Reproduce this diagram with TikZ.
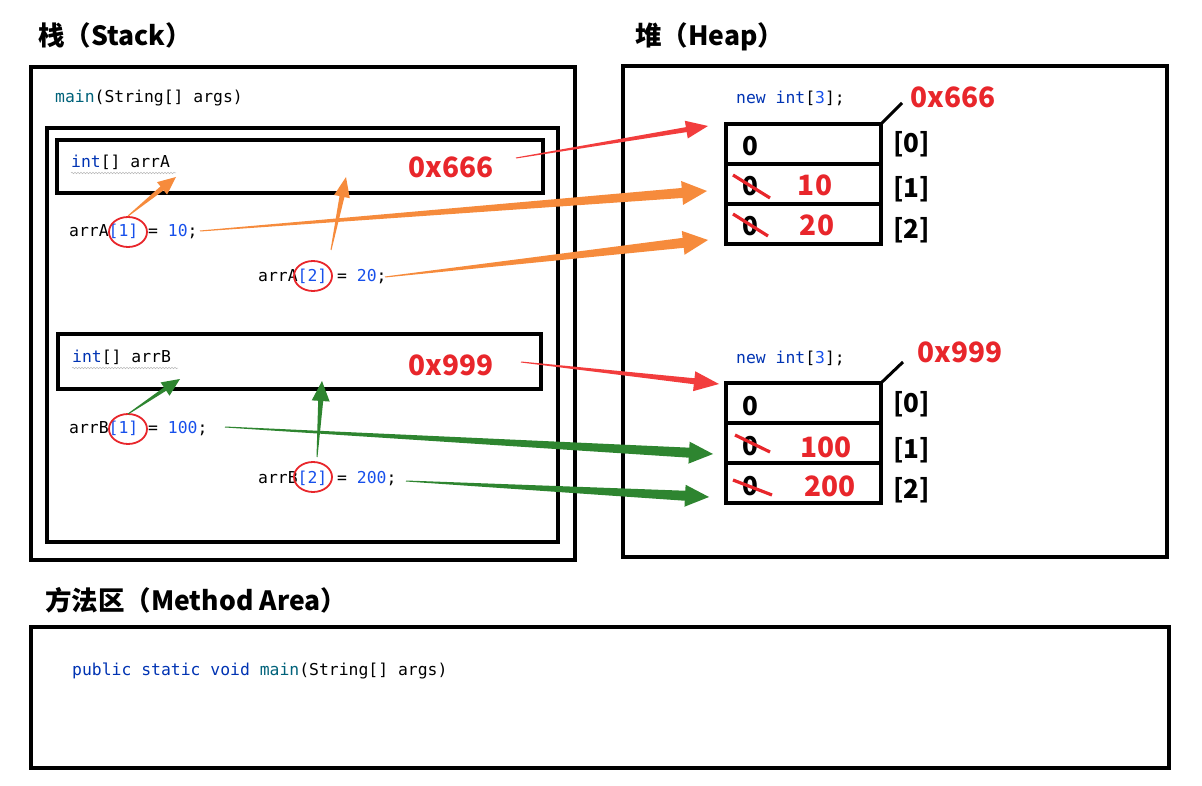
\documentclass[tikz,border=0pt]{standalone}
\usepackage{fontspec}
\newfontfamily\cjk{Noto Sans CJK SC}
\setmonofont{DejaVu Sans Mono}
\usetikzlibrary{positioning,calc,decorations.pathmorphing}

\definecolor{kwblue}{HTML}{0033B3}
\definecolor{numblue}{HTML}{1750EB}
\definecolor{fnteal}{HTML}{00627A}
\definecolor{memred}{HTML}{E8262B}
\definecolor{arrred}{HTML}{F23D3D}
\definecolor{arrorange}{HTML}{F68B3C}
\definecolor{arrgreen}{HTML}{2E8530}

% tapered arrow: colour, tail, tip, shaft half-width, head length, head half-width
\newcommand{\wedgearrow}[6]{%
  \coordinate (wedge-base) at ($(#3)!#5!(#2)$);
  \fill[#1] ($(#2)!0.5pt!90:(#3)$) -- ($(wedge-base)!#4!90:(#3)$) -- ($(wedge-base)!#6!90:(#3)$)
    -- (#3) -- ($(wedge-base)!#6!-90:(#3)$) -- ($(wedge-base)!#4!-90:(#3)$) -- ($(#2)!0.5pt!-90:(#3)$) -- cycle;
}

\tikzset{
  region/.style={draw, line width=4pt},
  title/.style={anchor=west, inner sep=0pt, font=\cjk\bfseries\fontsize{26.5}{30}\selectfont},
  code/.style={anchor=west, inner sep=0pt, font=\ttfamily\fontsize{16.4}{18}\selectfont},
  addr/.style={anchor=west, inner sep=0pt, text=memred, font=\cjk\bfseries\fontsize{28}{32}\selectfont},
  cell/.style={draw, line width=4pt, outer sep=0pt, minimum width=155pt, minimum height=40pt, inner sep=0pt},
  zero/.style={font=\cjk\bfseries\fontsize{26}{30}\selectfont},
  newval/.style={text=memred, font=\cjk\bfseries\fontsize{28}{32}\selectfont},
  idx/.style={anchor=west, inner sep=0pt, font=\cjk\bfseries\fontsize{26}{30}\selectfont},
  ring/.style={draw=memred, line width=1.8pt},
  strike/.style={memred, line width=3.2pt},
  squiggle/.style={gray!55, line width=0.5pt, decorate, decoration={snake, amplitude=0.8pt, segment length=3pt}}
}

\begin{document}
\begin{tikzpicture}[x=1pt, y=-1pt]
  \useasboundingbox (0,0) rectangle (1202,786);

  % Stack
  \node[title] (stackT) at (38,35) {栈（Stack）};
  \draw[region] (31,67) rectangle (575,560);
  \draw[region] (47,128) rectangle (558,542);
  \node[code] (mainArgs) at (55,98) {\textcolor{fnteal}{main}(String[] args)};

  \draw[region] (57,140) rectangle (543,193);
  \node[code] (declA) at (71,162) {\textcolor{kwblue}{int}[] arrA};
  \draw[squiggle] (71,173) -- (176,173);
  \node[addr] (addrA) at (408,167) {0x666};
  \node[code] (setA1) at (69,231) {arrA\textcolor{numblue}{[1]} = \textcolor{numblue}{10};};
  \node[code] (setA2) at (258,276) {arrA\textcolor{numblue}{[2]} = \textcolor{numblue}{20};};
  \draw[ring] (128,232) ellipse (19 and 15);
  \draw[ring] (313,276) ellipse (19 and 15);

  \draw[region] (58,334) rectangle (541,389);
  \node[code] (declB) at (72,357) {\textcolor{kwblue}{int}[] arrB};
  \draw[squiggle] (72,368) -- (178,368);
  \node[addr] (addrB) at (408,365) {0x999};
  \node[code] (setB1) at (69,428) {arrB\textcolor{numblue}{[1]} = \textcolor{numblue}{100};};
  \node[code] (setB2) at (258,478) {arrB\textcolor{numblue}{[2]} = \textcolor{numblue}{200};};
  \draw[ring] (128,429) ellipse (19 and 15);
  \draw[ring] (313,477) ellipse (19 and 15);

  % Heap
  \node[title] (heapT) at (635,37) {堆（Heap）};
  \draw[region] (623,66) rectangle (1167,557);

  \node[code] (newA) at (736,98) {\textcolor{kwblue}{new int}[\textcolor{numblue}{3}];};
  \node[cell] (cellA0) at (803.5,144) {};
  \node[cell, below=0pt of cellA0] (cellA1) {};
  \node[cell, below=0pt of cellA1] (cellA2) {};
  \coordinate (tagA) at (902,103);
  \draw[line width=3pt] (cellA0.north east) -- (tagA);
  \node[addr] (heapAddrA) at (910,97) {0x666};
  \node[idx] (idxA0) at (893,144) {[0]};
  \node[idx] (idxA1) at (893,189) {[1]};
  \node[idx] (idxA2) at (893,230) {[2]};
  \node[zero] (zeroA0) at (750,146) {0};
  \node[zero] (zeroA1) at (750,186) {0};
  \node[zero] (zeroA2) at (750,226) {0};
  \draw[strike] (733,175) -- (770,198);
  \draw[strike] (733,214) -- (768,236);
  \node[newval] (valA1) at (815,185) {10};
  \node[newval] (valA2) at (817,225) {20};

  \node[code] (newB) at (736,358) {\textcolor{kwblue}{new int}[\textcolor{numblue}{3}];};
  \node[cell] (cellB0) at (803.5,403) {};
  \node[cell, below=0pt of cellB0] (cellB1) {};
  \node[cell, below=0pt of cellB1] (cellB2) {};
  \coordinate (tagB) at (903,362);
  \draw[line width=3pt] (cellB0.north east) -- (tagB);
  \node[addr] (heapAddrB) at (917,352) {0x999};
  \node[idx] (idxB0) at (893,404) {[0]};
  \node[idx] (idxB1) at (893,450) {[1]};
  \node[idx] (idxB2) at (893,490) {[2]};
  \node[zero] (zeroB0) at (750,406) {0};
  \node[zero] (zeroB1) at (750,446) {0};
  \node[zero] (zeroB2) at (750,486) {0};
  \draw[strike] (735,435) -- (770,452);
  \draw[strike] (733,480) -- (772,495);
  \node[newval] (valB1) at (826,447) {100};
  \node[newval] (valB2) at (830,486) {200};

  % Method area
  \node[title] (methodT) at (45,600) {方法区（Method Area）};
  \draw[region] (31,627) rectangle (1169,768);
  \node[code] (mainSig) at (72,671) {\textcolor{kwblue}{public static void} \textcolor{fnteal}{main}(String[] args)};

  % arrow ends
  \coordinate (oA1s) at (128,216);  \coordinate (oA1t) at (176,177);
  \coordinate (oA2s) at (331,250);  \coordinate (oA2t) at (346,177);
  \coordinate (oL1s) at (200,231);  \coordinate (oL1t) at (707,191);
  \coordinate (oL2s) at (385,277);  \coordinate (oL2t) at (708,240);
  \coordinate (rAs) at (516,158);   \coordinate (rAt) at (708,126);
  \coordinate (rBs) at (521,362);   \coordinate (rBt) at (719,384);
  \coordinate (gB1s) at (128,414);  \coordinate (gB1t) at (180,379);
  \coordinate (gB2s) at (317,457);  \coordinate (gB2t) at (322,381);
  \coordinate (gL1s) at (225,427);  \coordinate (gL1t) at (713,454);
  \coordinate (gL2s) at (406,481);  \coordinate (gL2t) at (709,497);

  \wedgearrow{arrred}{rAs}{rAt}{2.5pt}{22pt}{9pt}
  \wedgearrow{arrred}{rBs}{rBt}{3pt}{25pt}{10pt}
  \wedgearrow{arrorange}{oA1s}{oA1t}{2.5pt}{18pt}{8pt}
  \wedgearrow{arrorange}{oA2s}{oA2t}{2.5pt}{20pt}{8pt}
  \wedgearrow{arrorange}{oL1s}{oL1t}{5pt}{25pt}{12pt}
  \wedgearrow{arrorange}{oL2s}{oL2t}{5pt}{25pt}{12pt}
  \wedgearrow{arrgreen}{gB1s}{gB1t}{2pt}{18pt}{8pt}
  \wedgearrow{arrgreen}{gB2s}{gB2t}{2.5pt}{20pt}{9pt}
  \wedgearrow{arrgreen}{gL1s}{gL1t}{5pt}{24pt}{11pt}
  \wedgearrow{arrgreen}{gL2s}{gL2t}{5pt}{24pt}{11pt}
\end{tikzpicture}
\end{document}
